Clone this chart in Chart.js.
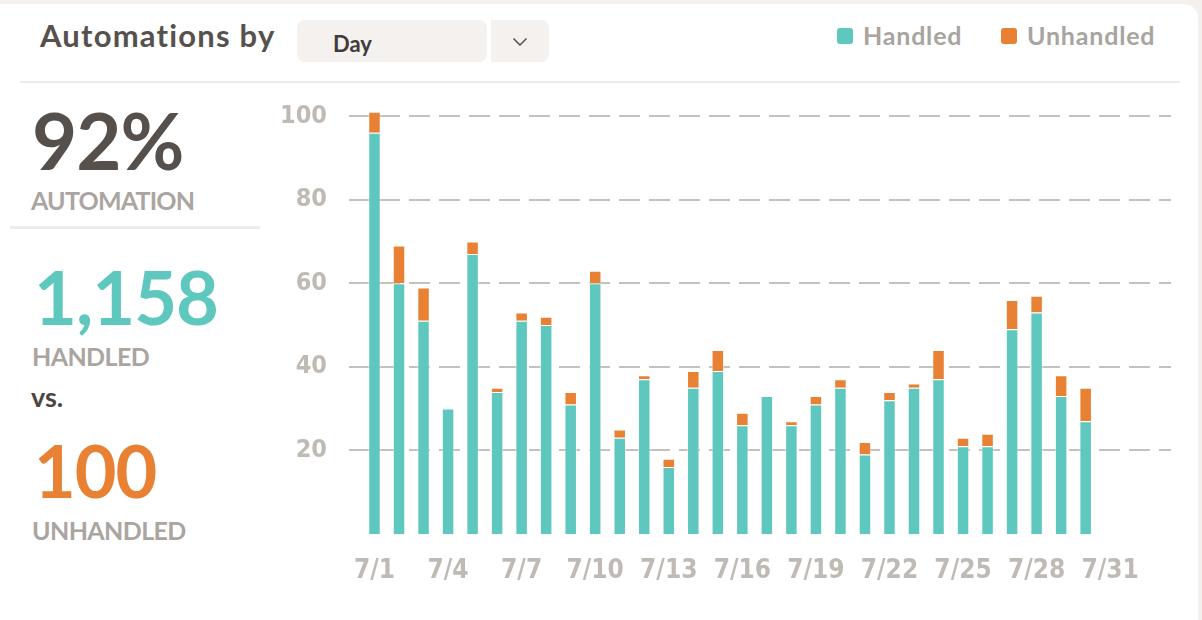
<!DOCTYPE html>
<html>
<head>
<meta charset="utf-8">
<script src="https://cdn.jsdelivr.net/npm/chart.js@4.4.1/dist/chart.umd.min.js"></script>
<style>
  html, body { margin:0; padding:0; width:1202px; height:620px; overflow:hidden; background:#f3f0ed; font-family: Lato, "Open Sans", sans-serif; }
  #card { position:absolute; left:0; top:4px; width:1198px; height:640px; background:#fff; border-radius:0 14px 0 0; }
  .t { position:absolute; line-height:1; font-weight:700; white-space:nowrap; }
  #title { left:40px; top:19.5px; font-size:31px; letter-spacing:1.2px; color:#57514e; }
  #dd { position:absolute; left:297px; top:20px; width:190px; height:42px; background:#f4f1ee; border-radius:8px; }
  #ddv { left:333px; top:32.5px; font-size:22px; color:#403c3a; }
  #ddc { position:absolute; left:491px; top:20px; width:58px; height:42px; background:#f4f1ee; border-radius:0 8px 8px 0; }
  #hline { position:absolute; left:20px; top:81px; width:1160px; height:2px; background:#efebe8; }
  #vline { position:absolute; left:10px; top:226px; width:250px; height:3px; background:#efebe8; }
  #legend { position:absolute; left:0; top:0; }
  .lg-box { position:absolute; top:28px; width:16px; height:16px; border-radius:3px; }
  .lg-txt { position:absolute; line-height:1; font-weight:700; font-size:25px; letter-spacing:0.8px; color:#a8a4a0; top:23px; white-space:nowrap; }
  #pct { left:32px; top:101px; font-size:78px; color:#55504c; letter-spacing:-1px; }
  #pctl { left:31px; top:188px; font-size:25px; color:#aaa5a1; letter-spacing:-0.8px; }
  #hn { left:34px; top:259.5px; font-size:74px; color:#5ec8bf; letter-spacing:-1px; }
  #hl { left:32px; top:344px; font-size:25px; color:#aaa5a1; letter-spacing:-0.6px; }
  #vs { left:31px; top:383px; font-size:27px; color:#4a4542; }
  #un { left:34px; top:434px; font-size:72px; color:#e88133; letter-spacing:-1px; }
  #ul { left:32px; top:518px; font-size:25px; color:#aaa5a1; letter-spacing:-0.6px; }
  #wrap { position:absolute; left:270px; top:80px; width:932px; height:540px; }
</style>
</head>
<body>
<div id="card"></div>
<div class="t" id="title">Automations by</div>
<div id="dd"></div>
<div class="t" id="ddv">Day</div>
<div id="ddc">
  <svg width="58" height="42" style="position:absolute;left:0;top:0">
    <polyline points="22.5,18.5 29,25 35.5,18.5" fill="none" stroke="#4a4644" stroke-width="1.4"/>
  </svg>
</div>
<div id="hline"></div>
<div id="legend"></div>
<div class="t" id="pct"></div>
<div class="t" id="pctl">AUTOMATION</div>
<div id="vline"></div>
<div class="t" id="hn"></div>
<div class="t" id="hl">HANDLED</div>
<div class="t" id="vs">vs.</div>
<div class="t" id="un"></div>
<div class="t" id="ul">UNHANDLED</div>
<div id="wrap"><canvas id="c" width="932" height="540"></canvas></div>
<script>
const categories = ['7/1','7/2','7/3','7/4','7/5','7/6','7/7','7/8','7/9','7/10','7/11','7/12','7/13','7/14','7/15','7/16','7/17','7/18','7/19','7/20','7/21','7/22','7/23','7/24','7/25','7/26','7/27','7/28','7/29','7/30','7/31'];
const handled   = [96,60,51,30,67,34,51,50,31,60,23,37,16,35,39,26,33,26,31,35,19,32,35,37,21,21,49,53,33,27];
const unhandled = [5,9,8,0,3,1,2,2,3,3,2,1,2,4,5,3,0,1,2,2,3,2,1,7,2,3,7,4,5,8];
const xTickLabels = ['7/1','7/4','7/7','7/10','7/13','7/16','7/19','7/22','7/25','7/28','7/31'];
const yTickValues = [20,40,60,80,100];
const seriesNames = ['Handled','Unhandled'];
const seriesColors = ['#5ec8bf','#e88133'];

// summary numbers
const hSum = handled.reduce((a,b)=>a+b,0);
const uSum = unhandled.reduce((a,b)=>a+b,0);
document.getElementById('pct').textContent = Math.round(100*hSum/(hSum+uSum)) + '%';
document.getElementById('hn').textContent = hSum.toLocaleString('en-US');
document.getElementById('un').textContent = uSum.toLocaleString('en-US');

// legend
const lg = document.getElementById('legend');
const lgPos = [[837, 863], [1001, 1027]];
seriesNames.forEach((n, i) => {
  const b = document.createElement('div'); b.className='lg-box'; b.style.left = lgPos[i][0]+'px'; b.style.background = seriesColors[i]; lg.appendChild(b);
  const t = document.createElement('div'); t.className='lg-txt'; t.style.left = lgPos[i][1]+'px'; t.textContent = n; lg.appendChild(t);
});

const tickFont = '"Liberation Sans Narrow", "DejaVu Sans Condensed", "Roboto", sans-serif';
const barBorder = ctx => (ctx.parsed && ctx.parsed.y) ? 1 : 0;

new Chart(document.getElementById('c'), {
  type: 'bar',
  data: {
    labels: categories.map((_, i) => i),
    datasets: [
      { label: seriesNames[0], data: handled, backgroundColor: seriesColors[0], borderColor: 'rgba(255,255,255,0.55)', borderWidth: barBorder },
      { label: seriesNames[1], data: unhandled, backgroundColor: seriesColors[1], borderColor: 'rgba(255,255,255,0.55)', borderWidth: barBorder }
    ]
  },
  options: {
    responsive: false,
    animation: false,
    devicePixelRatio: 1,
    layout: { padding: { left: 0, right: 31, top: 20, bottom: 0 } },
    datasets: { bar: { categoryPercentage: 1, barPercentage: 0.51 } },
    plugins: { legend: { display: false }, tooltip: { enabled: false } },
    scales: {
      x: {
        type: 'linear',
        offset: false,
        stacked: true,
        min: -1.04,
        max: 32.48,
        afterBuildTicks: s => { s.ticks = xTickLabels.map(l => ({ value: categories.indexOf(l) })); },
        afterFit: s => { s.height = 86; },
        grid: { display: true, offset: false, drawOnChartArea: false, drawTicks: true, tickLength: 22, tickWidth: 0 },
        border: { display: false },
        ticks: {
          autoSkip: false, maxRotation: 0, padding: 0,
          color: '#c0bab5',
          font: { family: tickFont, size: 26, weight: 'bold' },
          callback: v => categories[v]
        }
      },
      y: {
        stacked: true,
        min: 0,
        max: 103.83,
        afterBuildTicks: s => { s.ticks = yTickValues.map(v => ({ value: v })); },
        afterFit: s => { s.width = 79; },
        grid: { color: '#c6c1bd', lineWidth: 2, drawTicks: true, tickLength: 22, tickWidth: 0 },
        border: { display: false, dash: [21, 9] },
        ticks: {
          padding: 0,
          color: '#c0bab5',
          font: { family: tickFont, size: 25, weight: 'bold' }
        }
      }
    }
  }
});
</script>
</body>
</html>
